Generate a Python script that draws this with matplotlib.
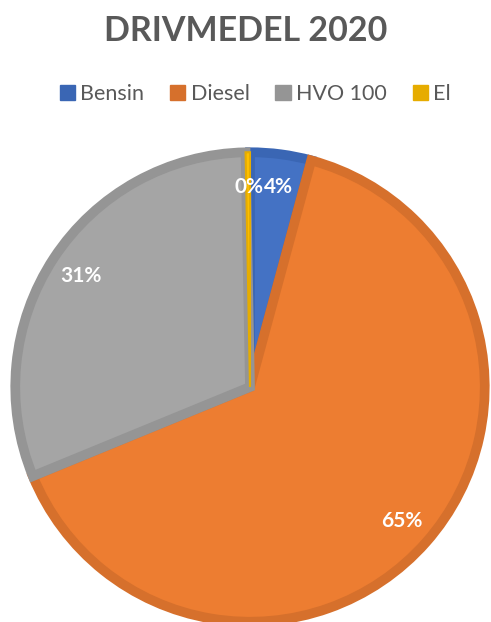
import matplotlib.pyplot as plt
from matplotlib.patches import Patch

# Andel per drivmedel 2020 (procent)
labels = ['Bensin', 'Diesel', 'HVO 100', 'El']
values = [4.2, 64.6, 30.9, 0.3]
fill_colors = ['#4472C4', '#ED7D31', '#A5A5A5', '#FFC000']
edge_colors = ['#3A66B4', '#D6702C', '#959595', '#E6AC00']
edge_widths = [7, 7, 7, 1.5]

plt.rcParams['font.family'] = ['Lato', 'DejaVu Sans']

fig = plt.figure(figsize=(4.91, 6.22), dpi=100)
fig.patch.set_facecolor('white')

# square axes that holds the pie; it runs slightly past the bottom edge
ax = fig.add_axes([8 / 491, -7 / 622, 484 / 491, 484 / 622])

wedges, texts, autotexts = ax.pie(
    values,
    colors=fill_colors,
    startangle=90,
    counterclock=False,
    radius=0.97,
    autopct='%1.0f%%',
    pctdistance=0.86,
    textprops=dict(color='white', fontsize=15, fontweight='bold'),
)
for w, ec, lw in zip(wedges, edge_colors, edge_widths):
    w.set_edgecolor(ec)
    w.set_linewidth(lw)
    w.set_joinstyle('miter')
# keep the thin El slice visible above its neighbours' borders
wedges[3].set_zorder(3)

# the 0% label sits just left of the 4% label
autotexts[3].set_horizontalalignment('right')
x4, y4 = autotexts[0].get_position()
autotexts[3].set_position((x4 - 0.055, y4))
autotexts[0].set_horizontalalignment('left')
autotexts[0].set_position((x4 - 0.05, y4))
for t in autotexts:
    t.set_zorder(4)

ax.set_xlim(-1, 1)
ax.set_ylim(-1, 1)
ax.set_aspect('equal')
ax.axis('off')

fig.text(0.5, 1 - 31 / 622, 'DRIVMEDEL 2020', ha='center', va='center',
         fontsize=24.5, fontweight='bold', color='#595959')

handles = [Patch(facecolor=c, edgecolor=c) for c in edge_colors]
fig.legend(handles, labels, loc='center', bbox_to_anchor=(0.52, 1 - 94 / 622),
           ncol=4, frameon=False, fontsize=15.5, labelcolor='#595959',
           handlelength=0.7, handleheight=0.7, handletextpad=0.25,
           columnspacing=1.2)

fig.savefig('out.png', dpi=100)
